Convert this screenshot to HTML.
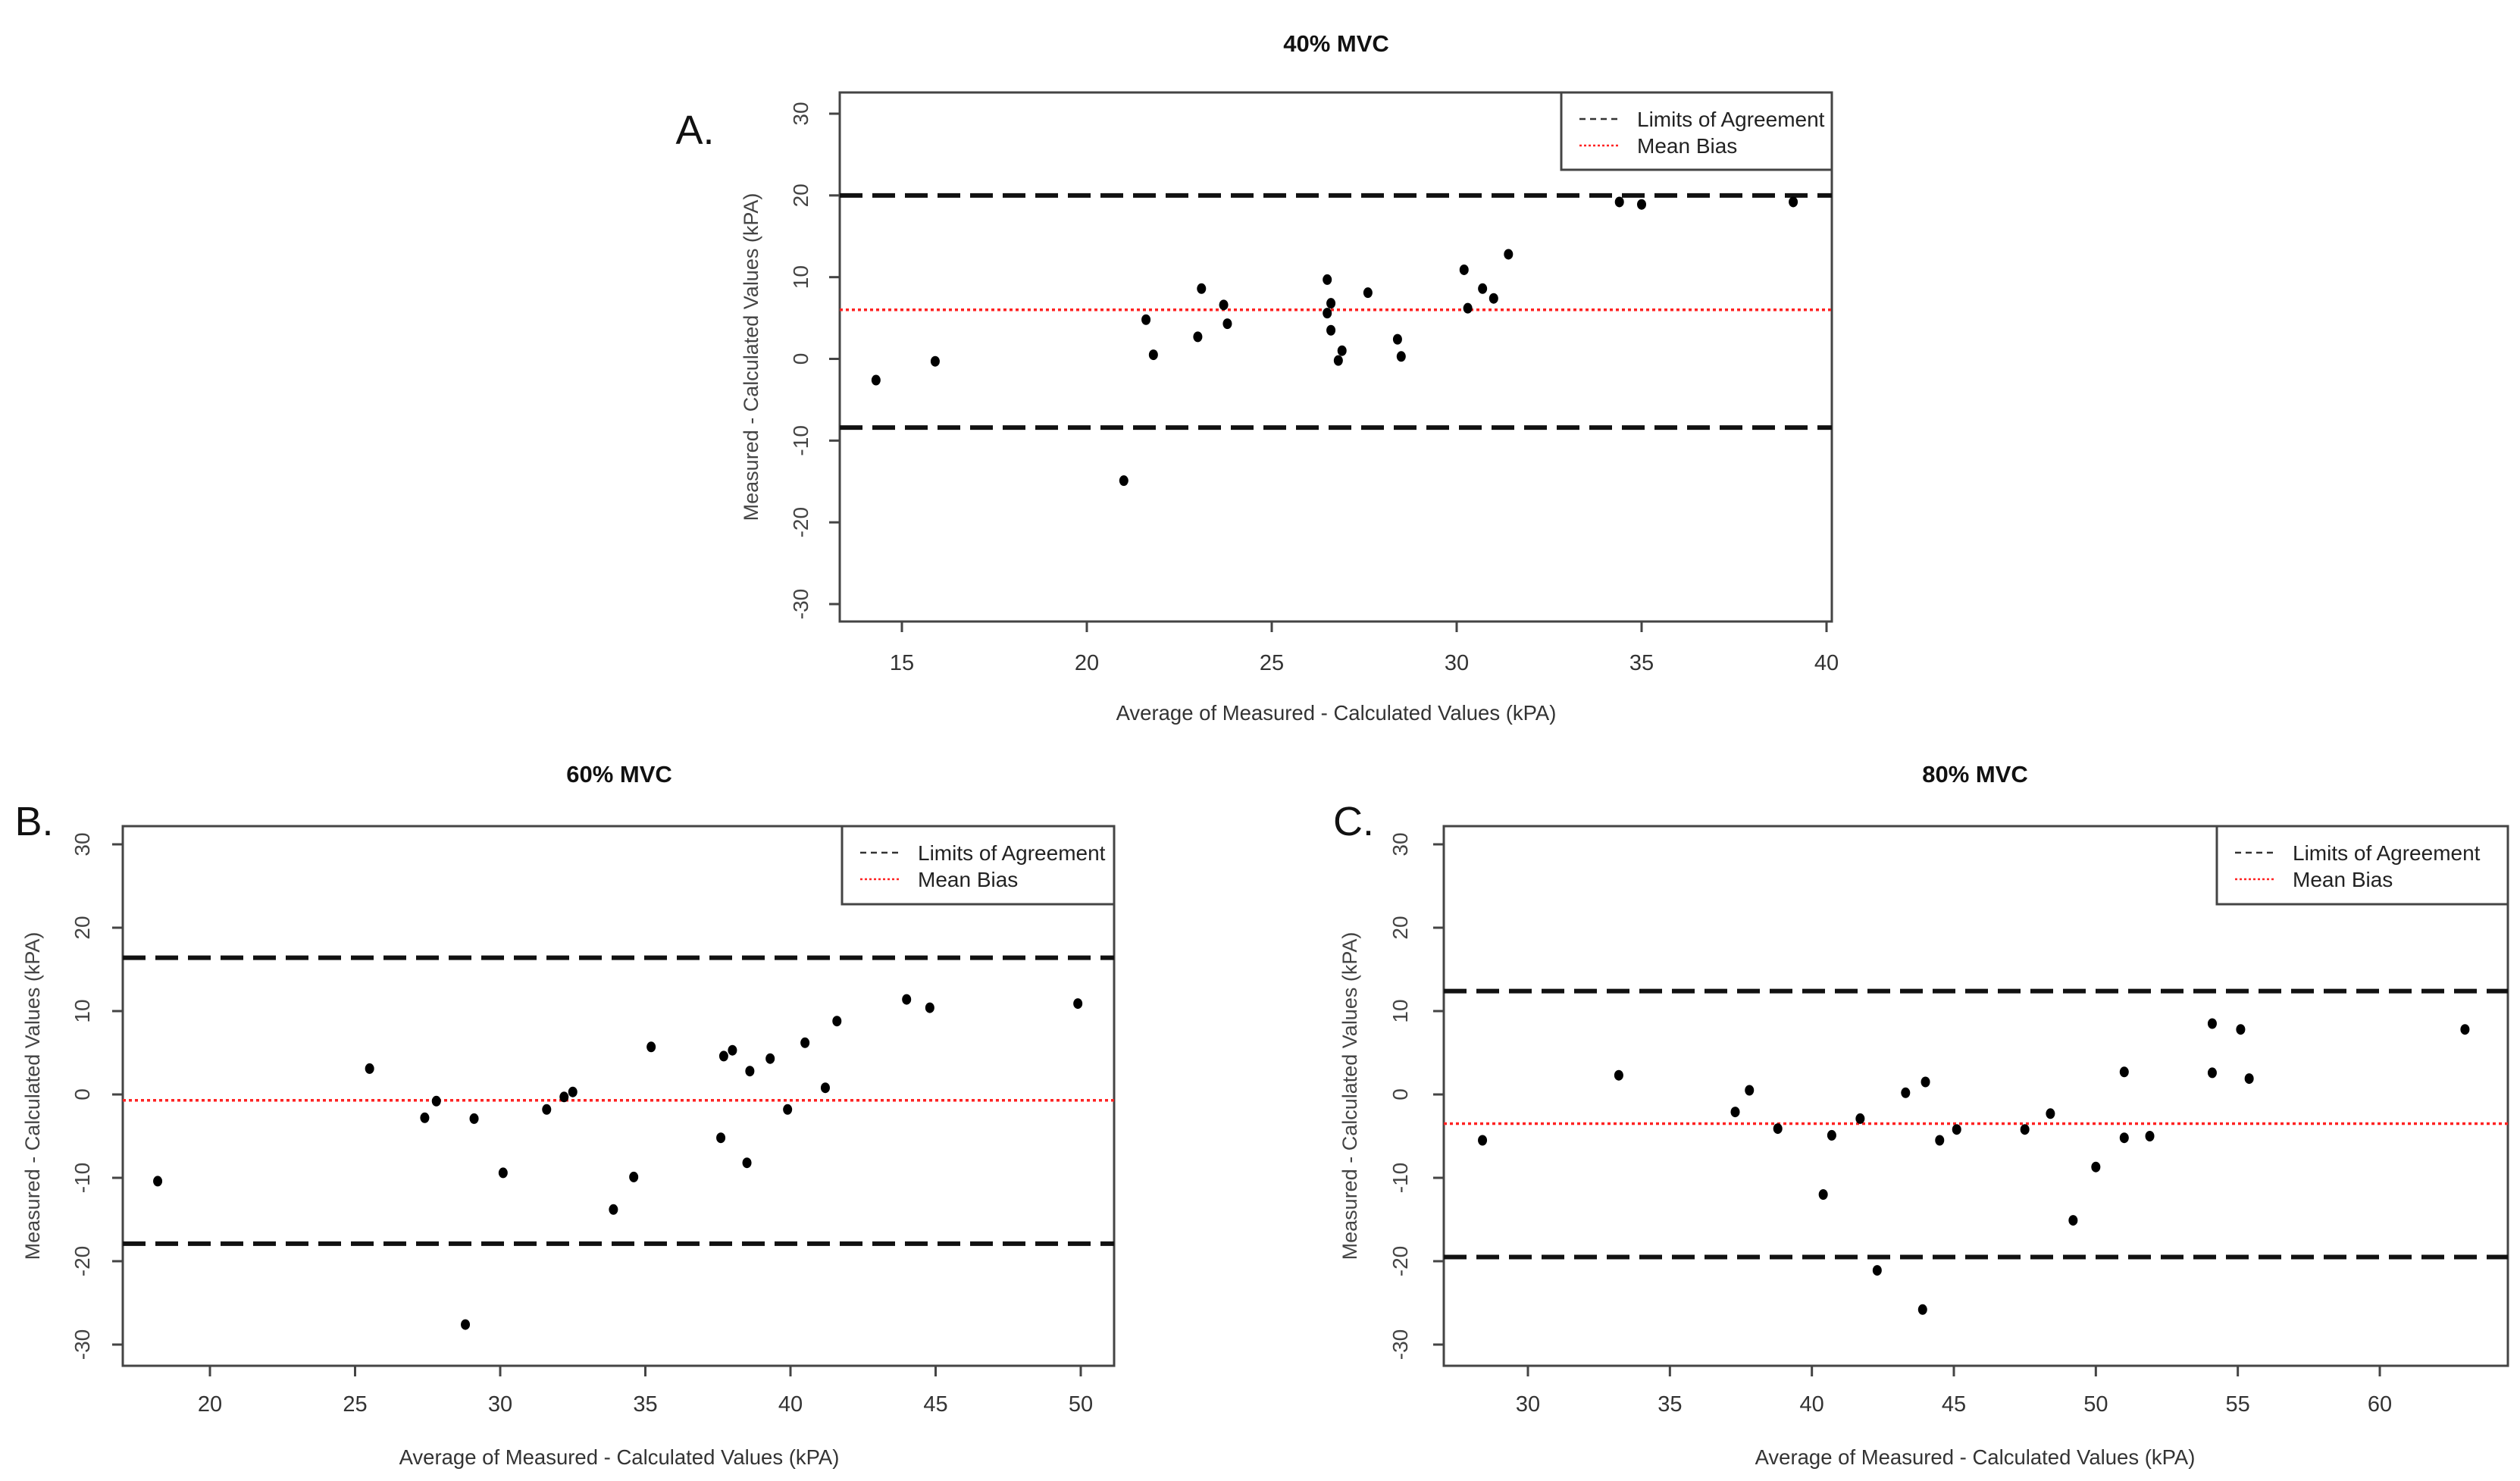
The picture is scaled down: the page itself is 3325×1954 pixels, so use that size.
<!DOCTYPE html>
<html><head><meta charset="utf-8">
<style>
html,body{margin:0;padding:0;background:#fff;}
svg{display:block;}
text{font-family:"Liberation Sans Narrow","Liberation Sans",sans-serif;}
</style></head>
<body>
<svg id="chart" width="3325" height="1954" viewBox="0 0 3325 1954" xmlns="http://www.w3.org/2000/svg"></svg>
<script>
// Panel A (40% MVC)
const aX = [14.3,15.9,21.6,21.8,23.0,23.1,23.7,23.8,21.0,26.5,26.5,26.6,26.6,26.9,26.8,27.6,28.4,28.5,30.2,30.3,30.7,31.0,31.4,34.4,35.0,39.1];
const aY = [-2.6,-0.3,4.8,0.5,2.7,8.6,6.6,4.3,-14.9,9.7,5.6,6.8,3.5,1.0,-0.2,8.1,2.4,0.3,10.9,6.2,8.6,7.4,12.8,19.2,18.9,19.2];
const aLines = [20.0, -8.4, 6.0]; // upper LoA, lower LoA, mean bias
const aXTicks = [15,20,25,30,35,40];
// Panel B (60% MVC)
const bX = [18.2,25.5,27.4,27.8,29.1,28.8,30.1,31.6,32.2,32.5,33.9,34.6,35.2,37.6,37.7,38.0,38.5,38.6,39.3,39.9,40.5,41.2,41.6,44.0,44.8,49.9];
const bY = [-10.4,3.1,-2.8,-0.8,-2.9,-27.6,-9.4,-1.8,-0.3,0.3,-13.8,-9.9,5.7,-5.2,4.6,5.3,-8.2,2.8,4.3,-1.8,6.2,0.8,8.8,11.4,10.4,10.9];
const bLines = [16.4, -17.9, -0.7];
const bXTicks = [20,25,30,35,40,45,50];
// Panel C (80% MVC)
const cX = [28.4,33.2,37.3,37.8,38.8,40.4,40.7,41.7,42.3,43.3,44.0,43.9,44.5,45.1,47.5,48.4,49.2,50.0,51.0,51.0,51.9,54.1,54.1,55.1,55.4,63.0];
const cY = [-5.5,2.3,-2.1,0.5,-4.1,-12.0,-4.9,-2.9,-21.1,0.2,1.5,-25.8,-5.5,-4.2,-4.2,-2.3,-15.1,-8.7,2.7,-5.2,-5.0,8.5,2.6,7.8,1.9,7.8];
const cLines = [12.4, -19.5, -3.5];
const cXTicks = [30,35,40,45,50,55,60];
const yTicks = [-30,-20,-10,0,10,20,30];

const NS = "http://www.w3.org/2000/svg";
const svg = document.getElementById('chart');
function mk(tag, attrs, parent){
  const e = document.createElementNS(NS, tag);
  for (const k in attrs) e.setAttribute(k, attrs[k]);
  (parent||svg).appendChild(e);
  return e;
}

function panel(p, xs, ys, lines, xticks){
  const g = mk('g', {});
  
  
  const sx = v => p.x0px + (v - p.x0v) * (p.x1px - p.x0px) / (p.x1v - p.x0v);
  const sy = v => p.y30 + (30 - v) * (p.ym30 - p.y30) / 60;
  const t = mk('text', {x:p.tx, y:p.ty, 'text-anchor':'middle', 'font-size':31, 'font-weight':'bold', fill:'#111'}, g);
  t.textContent = p.title;
  
  
  const lab = mk('text', {x:p.lx, y:p.ly, 'text-anchor':'middle', 'font-size':54, fill:'#111', 'font-family':'"Liberation Sans",sans-serif'}, g);
  lab.textContent = p.letter;
  
  
  const box = mk('rect', {x:p.L, y:p.T, width:p.R-p.L, height:p.B-p.T, fill:'none', stroke:'#444', 'stroke-width':3}, g);
  
  
  xticks.forEach(v => {
    const X = sx(v);
    mk('line', {x1:X, x2:X, y1:p.B, y2:p.B+14, stroke:'#444', 'stroke-width':3}, g);
    const tl = mk('text', {x:X, y:p.xly, 'text-anchor':'middle', 'font-size':29, fill:'#333'}, g);
    tl.textContent = v;
    
    
  });
  yTicks.forEach(v => {
    const Y = sy(v);
    mk('line', {x1:p.L-14, x2:p.L, y1:Y, y2:Y, stroke:'#444', 'stroke-width':3}, g);
    const tl = mk('text', {x:p.yl, y:Y, 'text-anchor':'middle', 'font-size':28, fill:'#444', 'font-family':'"Liberation Sans",sans-serif', transform:`rotate(-90 ${p.yl} ${Y})`}, g);
    tl.textContent = v;
    
    
  });
  const xt = mk('text', {x:p.xtx, y:p.xty, 'text-anchor':'middle', 'font-size':27.5, fill:'#333'}, g);
  xt.textContent = 'Average of Measured - Calculated Values (kPA)';
  
  
  const ymid = (p.T + p.B)/2;
  const yt = mk('text', {x:p.ytx, y:ymid, 'text-anchor':'middle', 'font-size':27, fill:'#444', 'font-family':'"Liberation Sans",sans-serif', transform:`rotate(-90 ${p.ytx} ${ymid})`}, g);
  yt.textContent = 'Measured - Calculated Values (kPA)';
  
  
  [0,1].forEach(i => {
    const l = mk('line', {x1:p.L, x2:p.R, y1:sy(lines[i]), y2:sy(lines[i]), stroke:'#111', 'stroke-width':6, 'stroke-dasharray':'30 13'}, g);
    
    
  });
  const m = mk('line', {x1:p.L, x2:p.R, y1:sy(lines[2]), y2:sy(lines[2]), stroke:'#f22', 'stroke-width':3.5, 'stroke-dasharray':'4 4'}, g);
  
  
  xs.forEach((v, i) => {
    const c = mk('ellipse', {cx:sx(v), cy:sy(ys[i]), rx:6, ry:7, fill:'#000'}, g);
    
    
  });
  const lg = mk('g', {}, g);
  
  
  mk('rect', {x:p.gl, y:p.T, width:p.R-p.gl, height:p.gb-p.T, fill:'#fff', stroke:'#444', 'stroke-width':3}, lg);
  mk('line', {x1:p.gl+24, x2:p.gl+77, y1:p.T+35, y2:p.T+35, stroke:'#333', 'stroke-width':2.5, 'stroke-dasharray':'8 6'}, lg);
  mk('line', {x1:p.gl+24, x2:p.gl+77, y1:p.T+70, y2:p.T+70, stroke:'#f22', 'stroke-width':2.5, 'stroke-dasharray':'3 3'}, lg);
  const l1 = mk('text', {x:p.gl+100, y:p.T+45, 'font-size':28, fill:'#222'}, lg);
  l1.textContent = 'Limits of Agreement';
  
  
  const l2 = mk('text', {x:p.gl+100, y:p.T+80, 'font-size':28, fill:'#222'}, lg);
  l2.textContent = 'Mean Bias';
  
  
}

panel({id:'panel-a', title:'40% MVC', letter:'A.', tx:1763, ty:68, lx:917, ly:190,
  L:1108, R:2417, T:122, B:820, x0v:15, x1v:40, x0px:1190, x1px:2410, y30:150, ym30:797,
  xly:884, yl:1066, xtx:1763, xty:950, ytx:1000, gl:2060, gb:224}, aX, aY, aLines, aXTicks);
panel({id:'panel-b', title:'60% MVC', letter:'B.', tx:817, ty:1032, lx:45, ly:1102,
  L:162, R:1470, T:1090, B:1802, x0v:20, x1v:50, x0px:277, x1px:1426, y30:1114, ym30:1774,
  xly:1862, yl:118, xtx:817, xty:1932, ytx:52, gl:1111, gb:1193}, bX, bY, bLines, bXTicks);
panel({id:'panel-c', title:'80% MVC', letter:'C.', tx:2606, ty:1032, lx:1786, ly:1102,
  L:1905, R:3309, T:1090, B:1802, x0v:30, x1v:60, x0px:2016, x1px:3140, y30:1114, ym30:1774,
  xly:1862, yl:1857, xtx:2606, xty:1932, ytx:1790, gl:2925, gb:1193}, cX, cY, cLines, cXTicks);
</script>
</body></html>
